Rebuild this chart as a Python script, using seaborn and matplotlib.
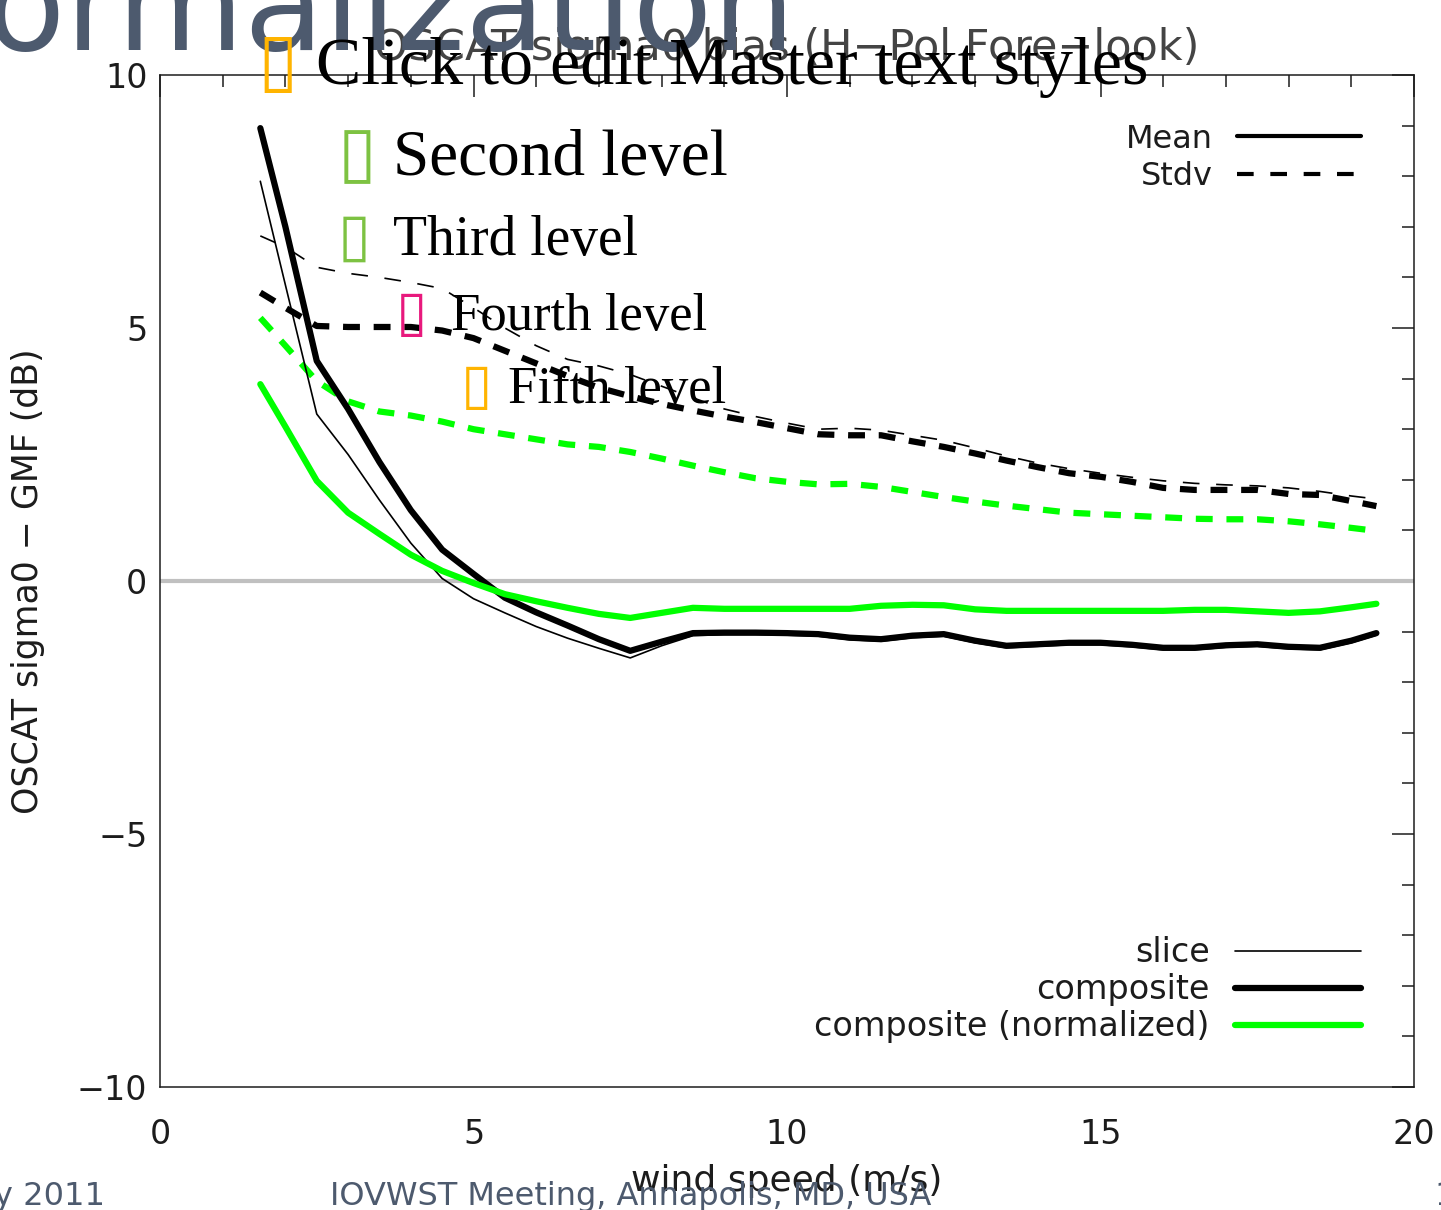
import matplotlib
matplotlib.use("Agg")
import matplotlib.pyplot as plt
import seaborn as sns
from matplotlib.lines import Line2D

# wind speed bins (m/s)
wind_speed = [1.6, 2.0, 2.5, 3.0, 3.5, 4.0, 4.5, 5.0, 5.5, 6.0, 6.5, 7.0, 7.5, 8.0, 8.5,
              9.0, 9.5, 10.0, 10.5, 11.0, 11.5, 12.0, 12.5, 13.0, 13.5, 14.0, 14.5,
              15.0, 15.5, 16.0, 16.5, 17.0, 17.5, 18.0, 18.5, 19.0, 19.4]

# mean bias (dB)
slice_mean = [7.9, 5.85, 3.3, 2.5, 1.6, 0.75, 0.05, -0.35, -0.63, -0.9, -1.13, -1.33, -1.52,
              -1.28, -1.08, -1.06, -1.06, -1.07, -1.09, -1.16, -1.19, -1.12, -1.09, -1.22,
              -1.32, -1.29, -1.26, -1.26, -1.3, -1.36, -1.36, -1.31, -1.29, -1.34, -1.36,
              -1.22, -1.07]
composite_mean = [8.95, 7.0, 4.35, 3.4, 2.35, 1.4, 0.62, 0.14, -0.33, -0.62, -0.88, -1.15,
                  -1.38, -1.2, -1.03, -1.02, -1.02, -1.03, -1.05, -1.12, -1.15, -1.08, -1.05,
                  -1.18, -1.28, -1.25, -1.22, -1.22, -1.26, -1.32, -1.32, -1.27, -1.25, -1.3,
                  -1.32, -1.18, -1.03]
normalized_mean = [3.89, 3.05, 1.98, 1.35, 0.93, 0.52, 0.2, -0.04, -0.26, -0.4, -0.53, -0.65,
                   -0.73, -0.63, -0.53, -0.55, -0.55, -0.55, -0.55, -0.55, -0.49, -0.47, -0.48,
                   -0.56, -0.59, -0.59, -0.59, -0.59, -0.59, -0.59, -0.57, -0.57, -0.6, -0.63,
                   -0.6, -0.52, -0.45]

# standard deviation (dB)
slice_std = [6.82, 6.6, 6.2, 6.08, 6.0, 5.9, 5.78, 5.4, 5.0, 4.65, 4.38, 4.25, 4.08, 3.85,
             3.62, 3.4, 3.25, 3.12, 3.0, 3.02, 2.98, 2.88, 2.78, 2.63, 2.47, 2.33, 2.22, 2.13,
             2.05, 1.98, 1.93, 1.9, 1.88, 1.84, 1.77, 1.68, 1.62]
composite_std = [5.7, 5.4, 5.04, 5.02, 5.02, 5.02, 4.95, 4.8, 4.55, 4.3, 4.05, 3.82, 3.65,
                 3.5, 3.37, 3.25, 3.14, 3.02, 2.9, 2.88, 2.88, 2.76, 2.65, 2.52, 2.38, 2.25,
                 2.13, 2.06, 1.96, 1.84, 1.8, 1.8, 1.8, 1.72, 1.7, 1.58, 1.48]
normalized_std = [5.2, 4.65, 3.95, 3.55, 3.35, 3.27, 3.15, 3.0, 2.9, 2.8, 2.7, 2.65, 2.55,
                  2.42, 2.28, 2.15, 2.03, 1.96, 1.91, 1.92, 1.86, 1.76, 1.66, 1.57, 1.49,
                  1.42, 1.35, 1.32, 1.29, 1.26, 1.23, 1.22, 1.22, 1.18, 1.12, 1.05, 0.99]

sns.set_style("white")
plt.rcParams["font.family"] = ["DejaVu Sans"]

INK = "#1c1c1c"
GREEN = "#00ff00"
SLATE = "#4d5a6e"

fig = plt.figure(figsize=(14.41, 12.10), dpi=100)
ax = fig.add_axes([160 / 1441, 1 - 1087 / 1210, 1254 / 1441, 1012 / 1210])

ax.axhline(0, color="#c0c0c0", lw=3, zorder=1)

thin_dash = (0, (10, 10))
thick_dash = (0, (2.7, 2.2))

sns.lineplot(x=wind_speed, y=slice_std, ax=ax, color="black", lw=1.2, linestyle=thin_dash)
sns.lineplot(x=wind_speed, y=composite_std, ax=ax, color="black", lw=4.5, linestyle=thick_dash)
sns.lineplot(x=wind_speed, y=normalized_std, ax=ax, color=GREEN, lw=4.5, linestyle=thick_dash)
sns.lineplot(x=wind_speed, y=slice_mean, ax=ax, color="black", lw=1.2)
sns.lineplot(x=wind_speed, y=composite_mean, ax=ax, color="black", lw=4.5)
sns.lineplot(x=wind_speed, y=normalized_mean, ax=ax, color=GREEN, lw=4.5)

ax.set_xlim(0, 20)
ax.set_ylim(-10, 10)
ax.set_xticks([0, 5, 10, 15, 20])
ax.set_xticks(range(0, 21), minor=True)
ax.set_yticks([-10, -5, 0, 5, 10])
ax.set_yticks(range(-10, 11), minor=True)
ax.tick_params(which="both", direction="in", top=True, right=True, width=1.1, color=INK,
               labelsize=24, labelcolor=INK)
ax.tick_params(which="major", length=16)
ax.tick_params(which="minor", length=8.5)
ax.tick_params(axis="x", pad=22)
ax.tick_params(axis="y", pad=9)
for sp in ax.spines.values():
    sp.set_color(INK)
    sp.set_linewidth(1.1)

ax.set_xlabel("wind speed (m/s)", fontsize=26, color=INK)
ax.xaxis.set_label_coords(0.5, -0.076)
ax.set_ylabel("OSCAT sigma0 \u2212 GMF (dB)", fontsize=25, color=INK)
ax.yaxis.set_label_coords(-0.092, 0.5)
ax.set_title("OSCAT sigma0 bias (H\u2212Pol Fore\u2212look)", fontsize=31, color="#444444", pad=11)

# legends (labels to the left of the samples, as in the IDL plot)
h1 = [Line2D([], [], color="black", lw=3),
      Line2D([], [], color="black", lw=3, linestyle=(0, (4, 4)))]
leg1 = ax.legend(h1, ["Mean", "Stdv"], loc="upper right", bbox_to_anchor=(0.958, 0.952),
                 frameon=False, markerfirst=False, fontsize=23, handlelength=3.9,
                 handletextpad=0.75, labelspacing=0.2, borderpad=0, borderaxespad=0,
                 labelcolor=INK)
ax.add_artist(leg1)
h2 = [Line2D([], [], color="black", lw=1.2),
      Line2D([], [], color="black", lw=4.5),
      Line2D([], [], color=GREEN, lw=4.5)]
ax.legend(h2, ["slice", "composite", "composite (normalized)"], loc="lower right",
          bbox_to_anchor=(0.958, 0.043), frameon=False, markerfirst=False, fontsize=24,
          handlelength=3.8, handletextpad=0.75, labelspacing=0.12, borderpad=0,
          borderaxespad=0, labelcolor=INK)

# slide overlay: title, bullet placeholder text and footer
fig.text(795 / 1441, 1 - 50 / 1210, "Normalization", fontsize=94, color=SLATE,
         ha="right", va="baseline")

bullets = [
    ("Click to edit Master text styles", 257, 316, 84, 49, "#ffb400"),
    ("Second level", 338, 393, 175, 47, "#7dc242"),
    ("Third level", 338, 393, 255, 40, "#7dc242"),
    ("Fourth level", 396, 451, 330, 38, "#e8197d"),
    ("Fifth level", 461, 508, 403, 38, "#ffb400"),
]
for label, bx, tx, base, size, col in bullets:
    fig.text(bx / 1441, 1 - base / 1210, "\u25af", fontsize=size * 1.08, color=col,
             ha="left", va="baseline")
    fig.text(tx / 1441, 1 - base / 1210, label, fontsize=size, color="black",
             family="Liberation Serif", ha="left", va="baseline")

fig.text(105 / 1441, 1 - 1205 / 1210, "May 2011", fontsize=23, color=SLATE,
         ha="right", va="baseline")
fig.text(330 / 1441, 1 - 1205 / 1210, "IOVWST Meeting, Annapolis, MD, USA", fontsize=23,
         color=SLATE, ha="left", va="baseline")
fig.text(1434 / 1441, 1 - 1205 / 1210, "1", fontsize=23, color=SLATE,
         ha="left", va="baseline")

fig.savefig("out.png", dpi=100)
